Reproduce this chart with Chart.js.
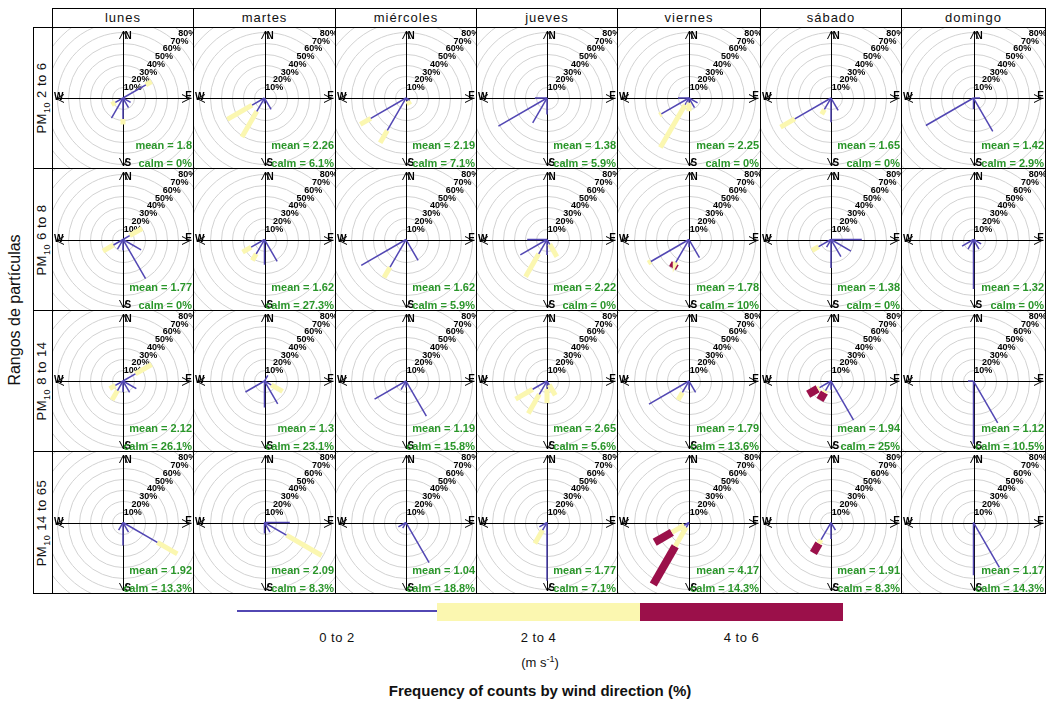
<!DOCTYPE html>
<html>
<head>
<meta charset="utf-8">
<script src="https://cdn.jsdelivr.net/npm/chart.js@4"></script>
<style>
  body { margin: 0; background: #fff; font-family: "Liberation Sans", Arial, sans-serif; }
  #lienzo { position: relative; width: 1046px; height: 704px; overflow: hidden; }
  .celda { position: absolute; box-sizing: border-box; border: 1px solid #000; background: #fff; }
  .celda canvas { display: block; }
  .dia { font-size: 13px; letter-spacing: 1px; text-align: center; line-height: 18px; color: #111; }
  .rango { font-size: 13px; letter-spacing: 0.5px; color: #111; }
  .rango span { position: absolute; left: 50%; top: 50%; white-space: nowrap; transform: translate(-50%, -50%) rotate(-90deg); }
  .rango sub { font-size: 9px; }
  .txt { position: absolute; white-space: nowrap; color: #111; }
</style>
</head>
<body>
<div id="lienzo"></div>
<script>
// dias y rangos de PM10
const dias = ['lunes', 'martes', 'miércoles', 'jueves', 'viernes', 'sábado', 'domingo'];
const rangos = ['2 to 6', '6 to 8', '8 to 14', '14 to 65'];
const bandas = ['0 to 2', '2 to 4', '4 to 6'];
const colores = ['#5247b3', '#fbf7b0', '#9b104a'];
const grosores = [1.5, 5, 8];
const anillos = [10, 20, 30, 40, 50, 60, 70, 80, 90, 100];
const etiquetas = [10, 20, 30, 40, 50, 60, 70, 80];

const medias = [
  ['1.8', '2.26', '2.19', '1.38', '2.25', '1.65', '1.42'],
  ['1.77', '1.62', '1.62', '2.22', '1.78', '1.38', '1.32'],
  ['2.12', '1.3', '1.19', '2.65', '1.79', '1.94', '1.12'],
  ['1.92', '2.09', '1.04', '1.77', '4.17', '1.91', '1.17']
];
const calmas = [
  ['0', '6.1', '7.1', '5.9', '0', '0', '2.9'],
  ['0', '27.3', '5.9', '0', '10', '0', '0'],
  ['26.1', '23.1', '15.8', '5.6', '13.6', '25', '10.5'],
  ['13.3', '8.3', '18.8', '7.1', '14.3', '8.3', '14.3']
];

// [direccion, % 0-2, % 2-4, % 4-6] por panel
const rosas = [
  [
    [[60, 24, 6, 0], [120, 8, 0, 0], [150, 10, 0, 0], [180, 19, 5, 0], [210, 21, 0, 0], [240, 8, 4, 0]],
    [[150, 12, 0, 0], [180, 5, 0, 0], [210, 14, 27, 0], [240, 13, 26, 0]],
    [[120, 4, 0, 0], [150, 3, 4, 0], [210, 34, 13, 0], [240, 37, 11, 0]],
    [[180, 15, 0, 0], [210, 26, 0, 0], [240, 51, 0, 0], [270, 11, 0, 0]],
    [[120, 9, 0, 0], [150, 10, 0, 0], [180, 4, 8, 0], [210, 7, 45, 0], [240, 29, 2, 0], [270, 10, 0, 0]],
    [[150, 13, 0, 0], [180, 22, 0, 0], [210, 12, 5, 0], [240, 38, 15, 0]],
    [[90, 6, 0, 0], [150, 35, 0, 0], [180, 10, 0, 0], [240, 50, 0, 0]]
  ],
  [
    [[60, 7, 13, 0], [120, 19, 0, 0], [150, 41, 0, 0], [180, 10, 0, 0], [210, 10, 0, 0], [240, 10, 11, 0]],
    [[150, 23, 0, 0], [180, 23, 0, 0], [210, 15, 7, 0], [240, 14, 9, 0]],
    [[150, 22, 0, 0], [210, 29, 11, 0], [240, 47, 0, 0]],
    [[150, 5, 13, 0], [180, 14, 0, 0], [210, 15, 24, 0], [240, 28, 0, 0], [270, 18, 0, 0]],
    [[150, 19, 0, 0], [180, 7, 0, 0], [210, 24, 1, 5], [240, 40, 3, 0]],
    [[90, 28, 0, 0], [120, 21, 0, 0], [150, 18, 0, 0], [180, 26, 0, 0], [210, 8, 0, 0], [240, 13, 7, 0]],
    [[120, 8, 0, 0], [150, 10, 0, 0], [180, 45, 0, 0], [210, 10, 0, 0], [240, 12, 0, 0]]
  ],
  [
    [[60, 13, 17, 0], [120, 14, 0, 0], [150, 12, 0, 0], [180, 10, 0, 0], [210, 10, 10, 0], [240, 8, 6, 0]],
    [[30, 6, 0, 0], [120, 7, 12, 0], [150, 24, 0, 0], [180, 24, 0, 0], [240, 20, 0, 0]],
    [[150, 37, 0, 0], [180, 6, 0, 0], [210, 9, 0, 0], [240, 33, 0, 0]],
    [[150, 4, 11, 0], [180, 7, 13, 0], [210, 14, 20, 0], [240, 15, 18, 0]],
    [[150, 12, 0, 0], [180, 8, 0, 0], [210, 12, 8, 0], [240, 42, 0, 0]],
    [[150, 41, 0, 0], [180, 8, 0, 0], [210, 10, 2, 8], [240, 12, 2, 10]],
    [[150, 44, 0, 0], [180, 57, 0, 0], [270, 5, 0, 0]]
  ],
  [
    [[120, 36, 21, 0], [150, 10, 0, 0], [180, 21, 0, 0], [210, 8, 0, 0]],
    [[90, 23, 0, 0], [120, 23, 37, 0], [150, 10, 0, 0], [180, 10, 0, 0]],
    [[150, 42, 0, 0], [210, 6, 0, 0], [240, 8, 0, 0]],
    [[180, 53, 0, 0], [210, 8, 14, 0], [240, 8, 0, 0]],
    [[210, 5, 20, 40], [240, 5, 13, 18]],
    [[150, 8, 0, 0], [180, 15, 0, 0], [210, 18, 4, 10]],
    [[150, 47, 0, 0], [180, 48, 0, 0]]
  ]
];

const pxPorPct = 1.1;
const bordesX = [52, 193, 335, 476, 617, 760, 901, 1045];
const bordesY = [27, 168, 310, 451, 593];
const lienzo = document.getElementById('lienzo');

function caja(cls, x, y, w, h) {
  const d = document.createElement('div');
  d.className = 'celda ' + cls;
  d.style.left = x + 'px';
  d.style.top = y + 'px';
  d.style.width = w + 'px';
  d.style.height = h + 'px';
  lienzo.appendChild(d);
  return d;
}

function texto(t, x, y, estilo) {
  const d = document.createElement('div');
  d.className = 'txt';
  d.innerHTML = t;
  d.style.left = x + 'px';
  d.style.top = y + 'px';
  d.style.transform = 'translate(-50%, -50%)';
  if (estilo) d.style.cssText += estilo;
  lienzo.appendChild(d);
  return d;
}

const rosaFondo = {
  id: 'rosaFondo',
  beforeDatasetsDraw(chart) {
    const { ctx, chartArea: a, scales: { x, y } } = chart;
    const cx = Math.round(x.getPixelForValue(0)) + 0.5;
    const cy = Math.round(y.getPixelForValue(0)) + 0.5;
    ctx.save();
    ctx.beginPath();
    ctx.rect(a.left, a.top, a.right - a.left, a.bottom - a.top);
    ctx.clip();
    ctx.strokeStyle = '#d2d2d2';
    ctx.lineWidth = 1;
    anillos.forEach(v => {
      const r = x.getPixelForValue(v) - x.getPixelForValue(0);
      ctx.beginPath();
      ctx.arc(cx, cy, r, 0, Math.PI * 2);
      ctx.stroke();
    });
    // ejes y flechas
    ctx.strokeStyle = '#000';
    ctx.beginPath();
    ctx.moveTo(cx, a.top + 3); ctx.lineTo(cx, a.bottom - 2);
    ctx.moveTo(a.left + 3, cy); ctx.lineTo(a.right - 3, cy);
    ctx.moveTo(cx - 4, a.top + 11); ctx.lineTo(cx, a.top + 3); ctx.lineTo(cx + 4, a.top + 11);
    ctx.moveTo(cx - 4, a.bottom - 10); ctx.lineTo(cx, a.bottom - 2); ctx.lineTo(cx + 4, a.bottom - 10);
    ctx.moveTo(a.right - 11, cy - 4); ctx.lineTo(a.right - 3, cy); ctx.lineTo(a.right - 11, cy + 4);
    ctx.moveTo(a.left + 11, cy - 4); ctx.lineTo(a.left + 3, cy); ctx.lineTo(a.left + 11, cy + 4);
    ctx.stroke();
    ctx.fillStyle = '#000';
    ctx.font = 'bold 10px "Liberation Sans", Arial, sans-serif';
    ctx.textBaseline = 'top';
    ctx.textAlign = 'left';
    ctx.fillText('N', cx + 1, a.top + 3);
    ctx.textAlign = 'right';
    ctx.textBaseline = 'bottom';
    ctx.fillText('E', a.right - 1, cy + 3);
    ctx.textAlign = 'left';
    ctx.fillText('W', a.left + 1, cy + 4);
    ctx.fillText('S', cx + 1, a.bottom);
    // etiquetas de porcentaje en la diagonal
    ctx.font = 'bold 9px "Liberation Sans", Arial, sans-serif';
    ctx.textAlign = 'center';
    ctx.textBaseline = 'bottom';
    etiquetas.forEach(v => {
      const d = v * Math.SQRT1_2;
      ctx.fillText(v + '%', x.getPixelForValue(d) + 2, y.getPixelForValue(d) + 2);
    });
    ctx.restore();
  },
  afterDatasetsDraw(chart, args, opts) {
    const { ctx, chartArea: a } = chart;
    ctx.save();
    ctx.fillStyle = '#2a962a';
    ctx.font = 'bold 11px "Liberation Sans", Arial, sans-serif';
    ctx.textAlign = 'right';
    ctx.textBaseline = 'alphabetic';
    ctx.fillText('mean = ' + opts.media, a.right - 1, a.bottom - 19);
    ctx.fillText('calm = ' + opts.calma + '%', a.right - 1, a.bottom - 1);
    ctx.restore();
  }
};

function datasetsRosa(lista) {
  const sets = [];
  lista.forEach(([dir, ...frec]) => {
    const t = dir * Math.PI / 180;
    let ini = 0;
    frec.forEach((f, b) => {
      if (f <= 0) return;
      const fin = ini + f;
      sets.push({
        data: [
          { x: ini * Math.sin(t), y: ini * Math.cos(t) },
          { x: fin * Math.sin(t), y: fin * Math.cos(t) }
        ],
        showLine: true,
        borderColor: colores[b],
        borderWidth: grosores[b],
        borderCapStyle: 'butt',
        pointRadius: 0
      });
      ini = fin;
    });
  });
  return sets;
}

// cabecera de dias
dias.forEach((d, c) => {
  const el = caja('dia', bordesX[c], 8, bordesX[c + 1] - bordesX[c] + 1, 20);
  el.textContent = d;
});

// etiquetas de rango
rangos.forEach((r, f) => {
  const el = caja('rango', 33, bordesY[f], 20, bordesY[f + 1] - bordesY[f] + 1);
  el.innerHTML = '<span>PM<sub>10</sub> ' + r + '</span>';
});

// paneles
rangos.forEach((r, f) => {
  dias.forEach((d, c) => {
    const w = bordesX[c + 1] - bordesX[c] + 1;
    const h = bordesY[f + 1] - bordesY[f] + 1;
    const el = caja('', bordesX[c], bordesY[f], w, h);
    const cv = document.createElement('canvas');
    cv.width = w - 2;
    cv.height = h - 2;
    el.appendChild(cv);
    const rx = (w - 2) / 2 / pxPorPct;
    const ry = (h - 2) / 2 / pxPorPct;
    new Chart(cv, {
      type: 'scatter',
      data: { datasets: datasetsRosa(rosas[f][c]) },
      options: {
        responsive: false,
        animation: false,
        events: [],
        layout: { padding: 0 },
        scales: {
          x: { type: 'linear', min: -rx, max: rx, display: false },
          y: { type: 'linear', min: -ry, max: ry, display: false }
        },
        plugins: {
          legend: { display: false },
          tooltip: { enabled: false },
          rosaFondo: { media: medias[f][c], calma: calmas[f][c] }
        }
      },
      plugins: [rosaFondo]
    });
  });
});

// titulo del eje y
texto('Rangos de partículas', 15, 310, 'font-size:16px;transform:translate(-50%,-50%) rotate(-90deg);');

// leyenda de velocidades
const leyX = [237, 437, 640, 843];
bandas.forEach((b, i) => {
  const seg = document.createElement('div');
  seg.style.position = 'absolute';
  seg.style.left = leyX[i] + 'px';
  seg.style.width = (leyX[i + 1] - leyX[i]) + 'px';
  seg.style.background = colores[i];
  if (i === 0) { seg.style.top = '610px'; seg.style.height = '2px'; }
  else { seg.style.top = '603px'; seg.style.height = '18px'; }
  lienzo.appendChild(seg);
  texto(b, (leyX[i] + leyX[i + 1]) / 2, 637, 'font-size:13px;letter-spacing:0.5px;');
});
texto('(m s<sup style="font-size:9px">-1</sup>)', 540, 662, 'font-size:13px;');
texto('Frequency of counts by wind direction (%)', 540, 690, 'font-size:15px;font-weight:bold;');
</script>
</body>
</html>
